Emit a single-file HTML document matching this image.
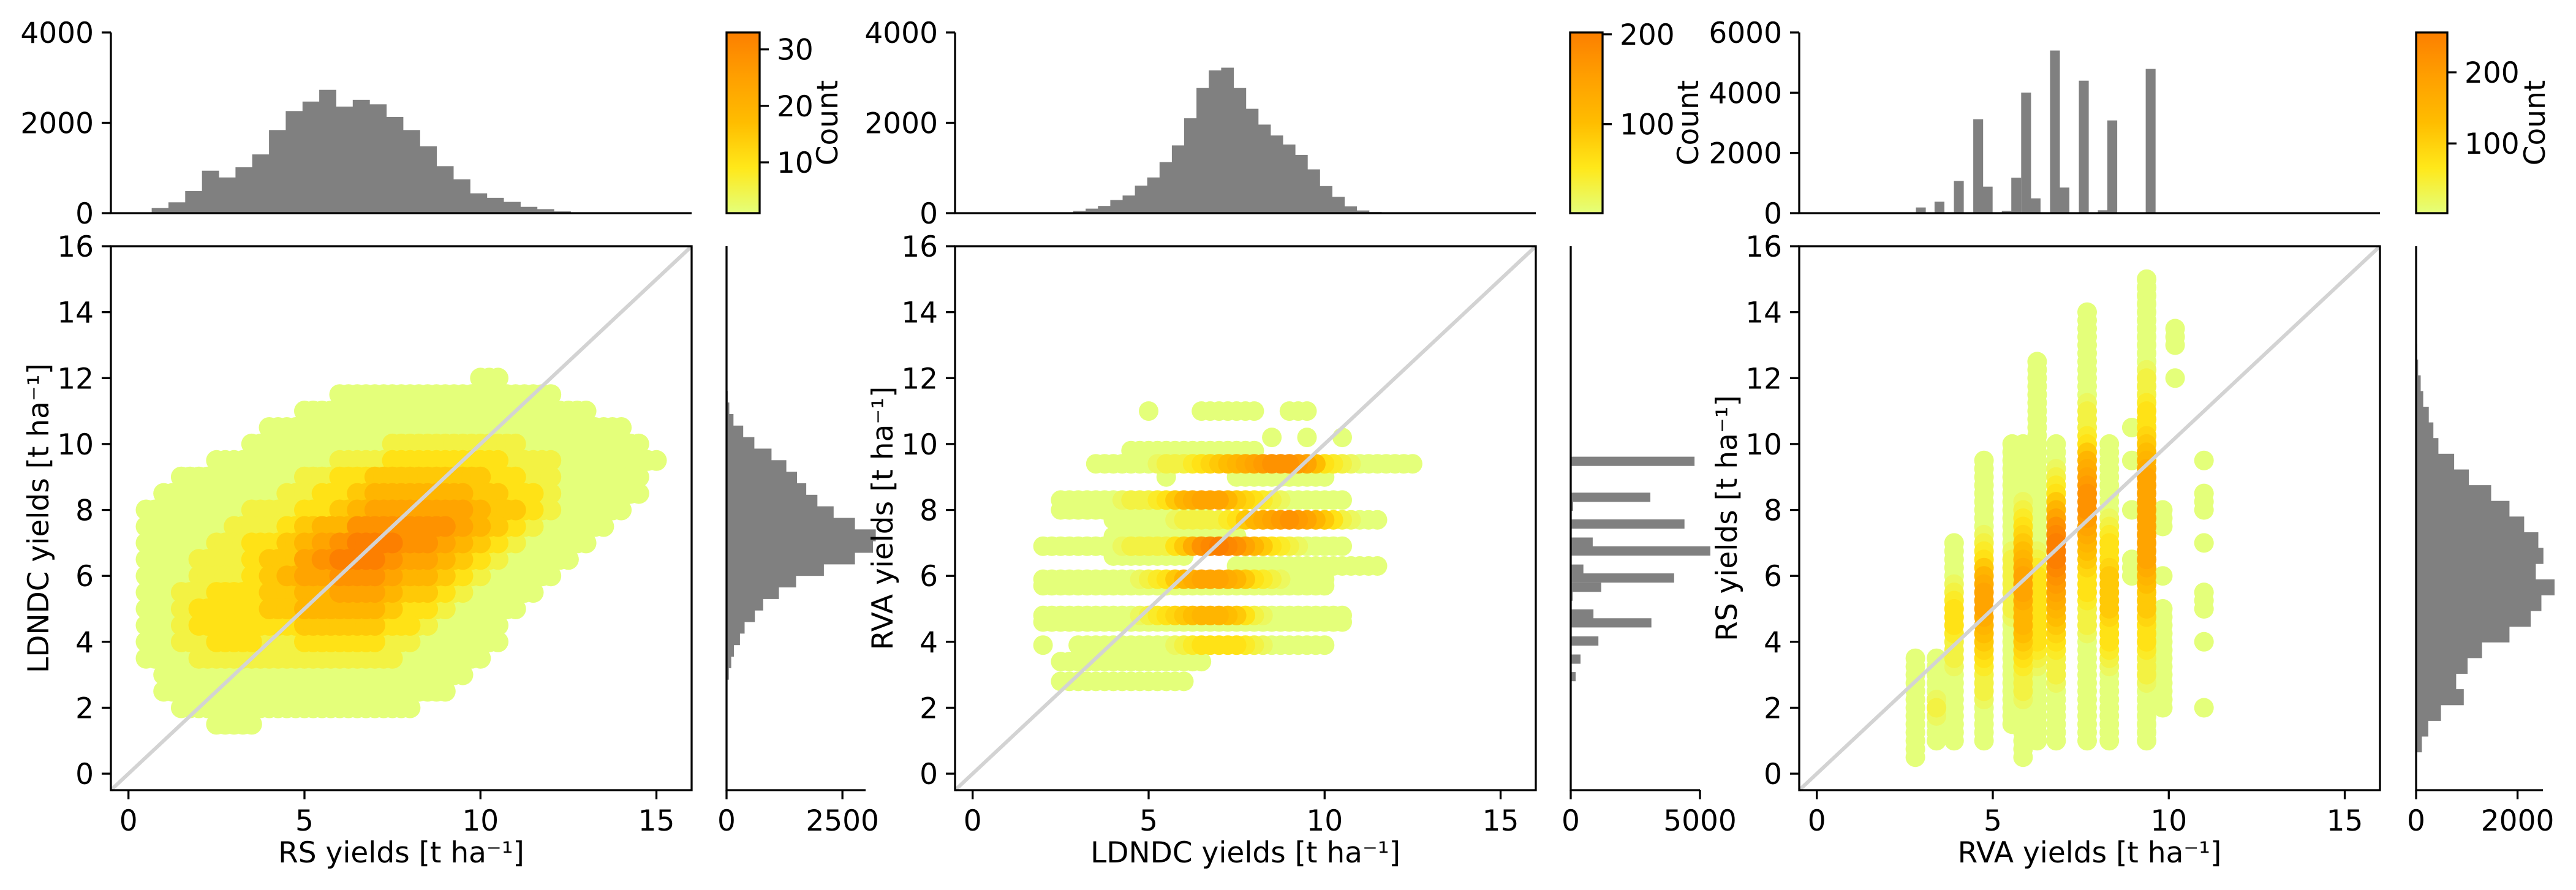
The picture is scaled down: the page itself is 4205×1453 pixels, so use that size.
<!DOCTYPE html>
<html><head><meta charset="utf-8">
<style>
html,body{margin:0;padding:0;background:#fff;}
svg{display:block;font-family:"DejaVu Sans","Liberation Sans",sans-serif;}
</style></head>
<body>
<svg id="fig" xmlns="http://www.w3.org/2000/svg" width="4205" height="1453" viewBox="0 0 4205 1453">
<defs>
<linearGradient id="wistia" x1="0" y1="1" x2="0" y2="0">
<stop offset="0" stop-color="#e4ff7a"/><stop offset="0.25" stop-color="#ffe81a"/><stop offset="0.5" stop-color="#ffbd00"/><stop offset="0.75" stop-color="#ffa000"/><stop offset="1" stop-color="#fc7f00"/>
</linearGradient>
</defs>
</svg>
<script>
// ---- data ----
const rsBinStart = 0.66, rsBinWidth = 0.476;
const rsCounts = [113,240,490,940,790,1015,1300,1840,2260,2470,2730,2360,2510,2410,2130,1840,1480,1040,750,440,340,250,140,90,40,20,10,10,5,5,5,5];
const ldBinStart = 2.86, ldBinWidth = 0.35;
const ldCounts = [50,100,160,290,390,610,790,1130,1500,2100,2770,3160,3220,2770,2310,1960,1720,1520,1290,970,600,360,150,60,25];
const rvaBinWidth = 0.27;
const rvaCenters = [2.95,3.48,4.03,4.58,4.85,5.39,5.66,5.94,6.21,6.76,7.03,7.58,8.12,8.39,9.48];
const rvaCounts = [190,380,1070,3120,880,75,1180,4000,490,5400,850,4400,95,3080,4790];

// panel 1 density grid: rows at p1Ys, columns x = 0.5 + 0.5*i
const p1Ys = [12,11.5,11,10.5,10,9.5,9,8.5,8,7.5,7,6.5,6,5.5,5,4.5,4,3.5,3,2.5,2,1.5];
const p1Rows = [
"000000000000000000011000000000",
"000000000001111111111111000000",
"000000000111111111111111110000",
"000000011111111111111111111100",
"000000111111112222222211111110",
"000011111112223333333222111111",
"001111111223344444443322111110",
"011111112233455555544332111110",
"111111222334566666654432111100",
"111112223455777777654321111000",
"111122334567888776543211110000",
"111222344678887665432111100000",
"111222345667776554321111000000",
"112233344556665443211110000000",
"112333344555554332111100000000",
"112333333444443321111000000000",
"112233322333332211111000000000",
"111222222222222111110000000000",
"011111111111111111100000000000",
"011111111111111111000000000000",
"001111111111111100000000000000",
"000011100000000000000000000000"];
// panel 2: rows at RVA values, columns x = 1.5 + 0.5*k
const p2Ys = [11.0,10.2,9.8,9.4,9.0,8.3,8.0,7.7,7.2,6.9,6.6,6.3,5.9,5.7,4.8,4.6,3.9,3.4,2.8];
const p2Rows = [
"00000001001111011000000",
"00000000000000101010000",
"00000011111111000000000",
"00001111223456776321111",
"00000000100011111100000",
"00111122356643211110000",
"00111111111000000000000",
"00000111122235676421100",
"00000111111110000000000",
"01111122247875321110000",
"00000111110000000000000",
"00000000000011111111100",
"01111112356653211100000",
"01111111111111111100000",
"01111112345542111110000",
"01111111111111111110000",
"01011111123332111100000",
"00111111111000000000000",
"00111111110000000000000"];
// panel 3: columns at RVA values, y = 0.5 + 0.5*j
const p3Xs = [2.8,3.4,3.9,4.75,5.55,5.86,6.26,6.8,7.68,8.31,8.95,9.37,9.83,10.18,11.0];
const p3Cols = [
"111111100000000000000000000000",
"011211100000000000000000000000",
"011111223321110000000000000000",
"011122345665321111100000000000",
"001111111222211111110000000000",
"111122345566543211110000000000",
"011111233333211111111111100000",
"011112234567887532110000000000",
"011111112233456776532211111100",
"011111233444332111110000000000",
"000000000001100100101000000000",
"011112233445666666543322111111",
"000111111101001100000000000000",
"000000000000000000000001011000",
"000100010110010110100000000000"];
const xTicks = [0,5,10,15];
const yTicks = [0,2,4,6,8,10,12,14,16];

// ---- layout ----
const panels = [
 {L:181,R:1129,T:402,B:1290,hT:53,hB:348,rL:1186,rR:1413,cL:1186,cR:1240,topMax:4000,topTicks:[0,2000,4000],rMax:3000,rTicks:[0,2500],cMin:1,cMax:33,cTicks:[10,20,30],countX:1367,xlab:'RS yields [t ha\u207B\u00B9]',ylab:'LDNDC yields [t ha\u207B\u00B9]',r:17},
 {L:1559,R:2507,T:402,B:1290,hT:53,hB:348,rL:2564,rR:2775,cL:2563,cR:2616,topMax:4000,topTicks:[0,2000,4000],rMax:5000,rTicks:[0,5000],cMin:1,cMax:202,cTicks:[100,200],countX:2772,xlab:'LDNDC yields [t ha\u207B\u00B9]',ylab:'RVA yields [t ha\u207B\u00B9]',r:16},
 {L:2937,R:3885,T:402,B:1290,hT:53,hB:348,rL:3944,rR:4151,cL:3944,cR:3995,topMax:6000,topTicks:[0,2000,4000,6000],rMax:2500,rTicks:[0,2000],cMin:2,cMax:256,cTicks:[100,200],countX:4154,xlab:'RVA yields [t ha\u207B\u00B9]',ylab:'RS yields [t ha\u207B\u00B9]',r:16}
];
const XMIN=-0.5, XMAX=16, FS=47, TL=15, LW=3.3;
const svg=document.getElementById('fig');
const NS='http://www.w3.org/2000/svg';
function mk(tag, attrs, parent){const e=document.createElementNS(NS,tag);for(const k in attrs)e.setAttribute(k,attrs[k]);(parent||svg).appendChild(e);return e;}
const stops=[[0,[228,255,122]],[0.25,[255,232,26]],[0.5,[255,189,0]],[0.75,[255,160,0]],[1,[252,127,0]]];
function cmap(t){t=Math.max(0,Math.min(1,t));for(let i=1;i<stops.length;i++){if(t<=stops[i][0]){const a=stops[i-1],b=stops[i];const f=(t-a[0])/(b[0]-a[0]);const c=a[1].map((v,j)=>Math.round(v+(b[1][j]-v)*f));return 'rgb('+c.join(',')+')';}}return 'rgb(252,127,0)';}
function txt(x,y,s,anchor,parent,rot){const t=mk('text',{x:x,y:y,'font-size':FS,'text-anchor':anchor||'middle',fill:'#000'},parent);if(rot)t.setAttribute('transform','rotate(-90 '+x+' '+y+')');t.textContent=s;return t;}

panels.forEach((p,pi)=>{
 const sx=v=>p.L+(v-XMIN)/(XMAX-XMIN)*(p.R-p.L);
 const sy=v=>p.B-(v-XMIN)/(XMAX-XMIN)*(p.B-p.T);
 const hy=v=>p.hB-v/p.topMax*(p.hB-p.hT);
 const rx=v=>p.rL+v/p.rMax*(p.rR-p.rL);
 const cy=v=>p.hB-(v-p.cMin)/(p.cMax-p.cMin)*(p.hB-p.hT);
 const g=mk('g',{});
 
 

 // scatter points (bands filled between neighbouring cells)
 let pts=[];
 if(pi===0){p1Rows.forEach((row,r)=>{for(let i=0;i<row.length;i++){const d=+row[i];if(d>0)pts.push([0.5+0.5*i,p1Ys[r],d]);const n=+row[i+1]||0;if(d>0&&n>0)pts.push([0.75+0.5*i,p1Ys[r],Math.min(d,n)]);}});}
 if(pi===1){p2Rows.forEach((row,r)=>{for(let k=0;k<row.length;k++){const d=+row[k];if(d>0)pts.push([1.5+0.5*k,p2Ys[r],d]);const n=+row[k+1]||0;if(d>0&&n>0)pts.push([1.75+0.5*k,p2Ys[r],(d+n)/2]);}});}
 if(pi===2){p3Cols.forEach((col,c)=>{for(let j=0;j<col.length;j++){const d=+col[j];if(d>0)pts.push([p3Xs[c],0.5+0.5*j,d]);const n=+col[j+1]||0;if(d>0&&n>0)pts.push([p3Xs[c],0.75+0.5*j,(d+n)/2]);}});}
 pts.sort((a,b)=>a[2]-b[2]);
 const sg=mk('g',{},g);
 
 
 pts.forEach(q=>{
  const c=mk('circle',{cx:sx(q[0]).toFixed(1),cy:sy(q[1]).toFixed(1),r:p.r,fill:cmap((q[2]-1)/7)},sg);
  
  
 });
 // 1:1 line
 const dl=mk('line',{x1:sx(XMIN),y1:sy(XMIN),x2:sx(XMAX),y2:sy(XMAX),stroke:'#d3d3d3','stroke-width':6},g);
 
 
 // frame
 const fr=mk('rect',{x:p.L,y:p.T,width:p.R-p.L,height:p.B-p.T,fill:'none',stroke:'#000','stroke-width':LW},g);
 
 
 xTicks.forEach(v=>{
  const tk=mk('line',{x1:sx(v),y1:p.B,x2:sx(v),y2:p.B+TL,stroke:'#000','stroke-width':LW},g);
  
  
  const tl=txt(sx(v),p.B+66,String(v),'middle',g);
  
  
 });
 yTicks.forEach(v=>{
  const tk=mk('line',{x1:p.L-TL,y1:sy(v),x2:p.L,y2:sy(v),stroke:'#000','stroke-width':LW},g);
  
  
  const tl=txt(p.L-28,sy(v)+17,String(v),'end',g);
  
  
 });
 const xl=txt((p.L+p.R)/2,p.B+118,p.xlab,'middle',g);
 
 
 const yl=txt(p.L-102,(p.T+p.B)/2,p.ylab,'middle',g,true);
 
 

 // top histogram
 const th=mk('g',{},g);
 
 
 let topBars=[];
 if(pi===0) rsCounts.forEach((c,i)=>topBars.push([rsBinStart+i*rsBinWidth,rsBinWidth,c]));
 if(pi===1) ldCounts.forEach((c,i)=>topBars.push([ldBinStart+i*ldBinWidth,ldBinWidth,c]));
 if(pi===2) rvaCounts.forEach((c,i)=>topBars.push([rvaCenters[i]-rvaBinWidth/2,rvaBinWidth,c]));
 topBars.forEach(b=>{
  const x0=sx(b[0]),x1=sx(b[0]+b[1]);
  const rc=mk('rect',{x:x0.toFixed(1),y:hy(b[2]).toFixed(1),width:(x1-x0+0.6).toFixed(1),height:(p.hB-hy(b[2])).toFixed(1),fill:'#808080'},th);
  
  
 });
 const ta=mk('path',{d:'M'+p.L+' '+p.hT+'V'+p.hB+'H'+p.R,fill:'none',stroke:'#000','stroke-width':LW},th);
 
 
 p.topTicks.forEach(v=>{
  const tk=mk('line',{x1:p.L-TL,y1:hy(v),x2:p.L,y2:hy(v),stroke:'#000','stroke-width':LW},th);
  
  
  const tl=txt(p.L-28,hy(v)+17,String(v),'end',th);
  
  
 });

 // right histogram
 const rh=mk('g',{},g);
 
 
 let rBars=[];
 if(pi===0) ldCounts.forEach((c,i)=>rBars.push([ldBinStart+i*ldBinWidth,ldBinWidth,c]));
 if(pi===1) rvaCounts.forEach((c,i)=>rBars.push([rvaCenters[i]-rvaBinWidth/2,rvaBinWidth,c]));
 if(pi===2) rsCounts.forEach((c,i)=>rBars.push([rsBinStart+i*rsBinWidth,rsBinWidth,c]));
 rBars.forEach(b=>{
  const y0=sy(b[0]+b[1]),y1=sy(b[0]);
  const rc=mk('rect',{x:p.rL,y:y0.toFixed(1),width:(rx(b[2])-p.rL).toFixed(1),height:(y1-y0+0.6).toFixed(1),fill:'#808080'},rh);
  
  
 });
 const ra=mk('path',{d:'M'+p.rL+' '+p.T+'V'+p.B+'H'+p.rR,fill:'none',stroke:'#000','stroke-width':LW},rh);
 
 
 p.rTicks.forEach(v=>{
  const tk=mk('line',{x1:rx(v),y1:p.B,x2:rx(v),y2:p.B+TL,stroke:'#000','stroke-width':LW},rh);
  
  
  const tl=txt(rx(v),p.B+66,String(v),'middle',rh);
  
  
 });

 // colorbar
 const cb=mk('g',{},g);
 
 
 const cr=mk('rect',{x:p.cL,y:p.hT,width:p.cR-p.cL,height:p.hB-p.hT,fill:'url(#wistia)',stroke:'#000','stroke-width':LW},cb);
 
 
 p.cTicks.forEach(v=>{
  const tk=mk('line',{x1:p.cR,y1:cy(v),x2:p.cR+TL,y2:cy(v),stroke:'#000','stroke-width':LW},cb);
  
  
  const tl=txt(p.cR+28,cy(v)+17,String(v),'start',cb);
  
  
 });
 const cl=txt(p.countX,(p.hT+p.hB)/2,'Count','middle',cb,true);
 
 
});
</script>
</body></html>
